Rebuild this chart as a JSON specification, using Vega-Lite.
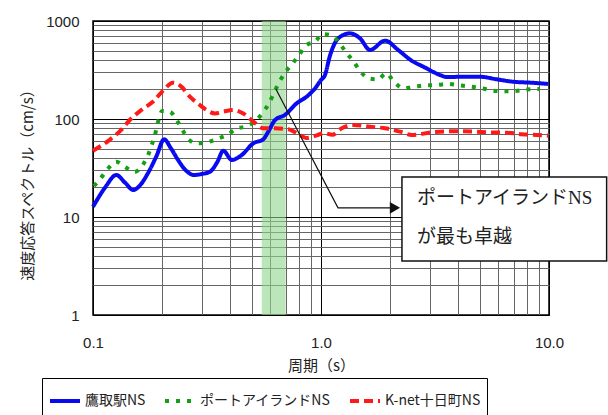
{
  "$schema": "https://vega.github.io/schema/vega-lite/v6.json",
  "width": 456,
  "height": 294,
  "autosize": {"type": "none"},
  "padding": {"left": 93, "top": 21, "right": 59, "bottom": 100},
  "background": "white",
  "config": {
    "view": {"stroke": "black", "strokeWidth": 1.5},
    "font": "Liberation Sans, Noto Sans CJK JP",
    "axis": {
      "domain": false,
      "ticks": false,
      "labelFlush": false,
      "labelFontSize": 15,
      "labelColor": "#222",
      "titleFontSize": 15,
      "titleFontWeight": "normal",
      "titleColor": "#222",
      "titleFont": "Noto Sans CJK JP",
      "labelOverlap": false,
      "gridWidth": 1
    }
  },
  "datasets": {
    "spectra": [
      {"series": "鷹取駅NS", "period": 0.1, "value": 12.7},
      {"series": "鷹取駅NS", "period": 0.113, "value": 20},
      {"series": "鷹取駅NS", "period": 0.1265, "value": 26.8},
      {"series": "鷹取駅NS", "period": 0.138, "value": 22.5},
      {"series": "鷹取駅NS", "period": 0.15, "value": 18.9},
      {"series": "鷹取駅NS", "period": 0.162, "value": 21.5},
      {"series": "鷹取駅NS", "period": 0.174, "value": 27.9},
      {"series": "鷹取駅NS", "period": 0.19, "value": 42},
      {"series": "鷹取駅NS", "period": 0.205, "value": 62},
      {"series": "鷹取駅NS", "period": 0.22, "value": 50},
      {"series": "鷹取駅NS", "period": 0.236, "value": 38.2},
      {"series": "鷹取駅NS", "period": 0.255, "value": 30},
      {"series": "鷹取駅NS", "period": 0.277, "value": 26.8},
      {"series": "鷹取駅NS", "period": 0.3, "value": 27.5},
      {"series": "鷹取駅NS", "period": 0.326, "value": 29},
      {"series": "鷹取駅NS", "period": 0.35, "value": 36},
      {"series": "鷹取駅NS", "period": 0.373, "value": 47.5},
      {"series": "鷹取駅NS", "period": 0.406, "value": 38.2},
      {"series": "鷹取駅NS", "period": 0.449, "value": 42.9},
      {"series": "鷹取駅NS", "period": 0.505, "value": 56.5},
      {"series": "鷹取駅NS", "period": 0.558, "value": 62},
      {"series": "鷹取駅NS", "period": 0.587, "value": 74.3},
      {"series": "鷹取駅NS", "period": 0.629, "value": 97.7},
      {"series": "鷹取駅NS", "period": 0.695, "value": 110},
      {"series": "鷹取駅NS", "period": 0.782, "value": 144.5},
      {"series": "鷹取駅NS", "period": 0.865, "value": 169},
      {"series": "鷹取駅NS", "period": 0.941, "value": 205},
      {"series": "鷹取駅NS", "period": 1.0, "value": 250},
      {"series": "鷹取駅NS", "period": 1.04, "value": 280},
      {"series": "鷹取駅NS", "period": 1.094, "value": 440},
      {"series": "鷹取駅NS", "period": 1.19, "value": 665},
      {"series": "鷹取駅NS", "period": 1.34, "value": 748},
      {"series": "鷹取駅NS", "period": 1.483, "value": 665},
      {"series": "鷹取駅NS", "period": 1.64, "value": 506},
      {"series": "鷹取駅NS", "period": 1.91, "value": 630},
      {"series": "鷹取駅NS", "period": 2.18, "value": 506},
      {"series": "鷹取駅NS", "period": 2.5, "value": 393},
      {"series": "鷹取駅NS", "period": 2.81, "value": 342},
      {"series": "鷹取駅NS", "period": 3.33, "value": 281},
      {"series": "鷹取駅NS", "period": 3.56, "value": 268},
      {"series": "鷹取駅NS", "period": 4.21, "value": 270},
      {"series": "鷹取駅NS", "period": 4.98, "value": 270},
      {"series": "鷹取駅NS", "period": 5.9, "value": 254},
      {"series": "鷹取駅NS", "period": 6.98, "value": 240},
      {"series": "鷹取駅NS", "period": 8.26, "value": 235},
      {"series": "鷹取駅NS", "period": 9.93, "value": 228},

      {"series": "ポートアイランドNS", "period": 0.101, "value": 20.7},
      {"series": "ポートアイランドNS", "period": 0.108, "value": 24.8},
      {"series": "ポートアイランドNS", "period": 0.116, "value": 30.9},
      {"series": "ポートアイランドNS", "period": 0.1266, "value": 36.6},
      {"series": "ポートアイランドNS", "period": 0.139, "value": 32.1},
      {"series": "ポートアイランドNS", "period": 0.152, "value": 28.8},
      {"series": "ポートアイランドNS", "period": 0.166, "value": 34.5},
      {"series": "ポートアイランドNS", "period": 0.175, "value": 43.6},
      {"series": "ポートアイランドNS", "period": 0.182, "value": 56.5},
      {"series": "ポートアイランドNS", "period": 0.188, "value": 72.5},
      {"series": "ポートアイランドNS", "period": 0.193, "value": 94},
      {"series": "ポートアイランドNS", "period": 0.201, "value": 120.8},
      {"series": "ポートアイランドNS", "period": 0.218, "value": 118},
      {"series": "ポートアイランドNS", "period": 0.234, "value": 95.5},
      {"series": "ポートアイランドNS", "period": 0.248, "value": 76},
      {"series": "ポートアイランドNS", "period": 0.264, "value": 61},
      {"series": "ポートアイランドNS", "period": 0.287, "value": 56.5},
      {"series": "ポートアイランドNS", "period": 0.312, "value": 57.4},
      {"series": "ポートアイランドNS", "period": 0.349, "value": 62.5},
      {"series": "ポートアイランドNS", "period": 0.386, "value": 68.7},
      {"series": "ポートアイランドNS", "period": 0.427, "value": 79.6},
      {"series": "ポートアイランドNS", "period": 0.475, "value": 84.9},
      {"series": "ポートアイランドNS", "period": 0.522, "value": 97.7},
      {"series": "ポートアイランドNS", "period": 0.555, "value": 116},
      {"series": "ポートアイランドNS", "period": 0.593, "value": 146.6},
      {"series": "ポートアイランドNS", "period": 0.622, "value": 185},
      {"series": "ポートアイランドNS", "period": 0.654, "value": 235},
      {"series": "ポートアイランドNS", "period": 0.695, "value": 297},
      {"series": "ポートアイランドNS", "period": 0.748, "value": 364},
      {"series": "ポートアイランドNS", "period": 0.801, "value": 450},
      {"series": "ポートアイランドNS", "period": 0.865, "value": 569},
      {"series": "ポートアイランドNS", "period": 0.941, "value": 615},
      {"series": "ポートアイランドNS", "period": 1.017, "value": 736},
      {"series": "ポートアイランドNS", "period": 1.125, "value": 703},
      {"series": "ポートアイランドNS", "period": 1.22, "value": 569},
      {"series": "ポートアイランドNS", "period": 1.3, "value": 468},
      {"series": "ポートアイランドNS", "period": 1.4, "value": 376},
      {"series": "ポートアイランドNS", "period": 1.49, "value": 304},
      {"series": "ポートアイランドNS", "period": 1.64, "value": 258},
      {"series": "ポートアイランドNS", "period": 1.78, "value": 254},
      {"series": "ポートアイランドNS", "period": 1.93, "value": 293},
      {"series": "ポートアイランドNS", "period": 2.09, "value": 240},
      {"series": "ポートアイランドNS", "period": 2.3, "value": 206},
      {"series": "ポートアイランドNS", "period": 2.57, "value": 214},
      {"series": "ポートアイランドNS", "period": 2.88, "value": 221},
      {"series": "ポートアイランドNS", "period": 3.21, "value": 222},
      {"series": "ポートアイランドNS", "period": 3.62, "value": 228},
      {"series": "ポートアイランドNS", "period": 4.04, "value": 221},
      {"series": "ポートアイランドNS", "period": 4.54, "value": 214},
      {"series": "ポートアイランドNS", "period": 5.07, "value": 206},
      {"series": "ポートアイランドNS", "period": 5.66, "value": 195},
      {"series": "ポートアイランドNS", "period": 6.37, "value": 192},
      {"series": "ポートアイランドNS", "period": 7.14, "value": 193},
      {"series": "ポートアイランドNS", "period": 7.98, "value": 200},
      {"series": "ポートアイランドNS", "period": 9.1, "value": 202},

      {"series": "K-net十日町NS", "period": 0.1, "value": 47.5},
      {"series": "K-net十日町NS", "period": 0.118, "value": 61},
      {"series": "K-net十日町NS", "period": 0.133, "value": 77.3},
      {"series": "K-net十日町NS", "period": 0.145, "value": 97.7},
      {"series": "K-net十日町NS", "period": 0.163, "value": 123.6},
      {"series": "K-net十日町NS", "period": 0.183, "value": 150},
      {"series": "K-net十日町NS", "period": 0.203, "value": 195},
      {"series": "K-net十日町NS", "period": 0.224, "value": 235},
      {"series": "K-net十日町NS", "period": 0.244, "value": 214},
      {"series": "K-net十日町NS", "period": 0.266, "value": 169},
      {"series": "K-net十日町NS", "period": 0.294, "value": 139},
      {"series": "K-net十日町NS", "period": 0.314, "value": 124},
      {"series": "K-net十日町NS", "period": 0.343, "value": 114},
      {"series": "K-net十日町NS", "period": 0.373, "value": 118.8},
      {"series": "K-net十日町NS", "period": 0.412, "value": 123.6},
      {"series": "K-net十日町NS", "period": 0.456, "value": 114},
      {"series": "K-net十日町NS", "period": 0.505, "value": 94},
      {"series": "K-net十日町NS", "period": 0.558, "value": 80.4},
      {"series": "K-net十日町NS", "period": 0.629, "value": 80.4},
      {"series": "K-net十日町NS", "period": 0.719, "value": 78.5},
      {"series": "K-net十日町NS", "period": 0.809, "value": 68.7},
      {"series": "K-net十日町NS", "period": 0.865, "value": 64},
      {"series": "K-net十日町NS", "period": 0.957, "value": 68},
      {"series": "K-net十日町NS", "period": 1.03, "value": 72},
      {"series": "K-net十日町NS", "period": 1.12, "value": 69},
      {"series": "K-net十日町NS", "period": 1.233, "value": 80.4},
      {"series": "K-net十日町NS", "period": 1.387, "value": 86.9},
      {"series": "K-net十日町NS", "period": 1.64, "value": 83.5},
      {"series": "K-net十日町NS", "period": 1.91, "value": 80.4},
      {"series": "K-net十日町NS", "period": 2.22, "value": 74.3},
      {"series": "K-net十日町NS", "period": 2.5, "value": 68.7},
      {"series": "K-net十日町NS", "period": 3.06, "value": 73},
      {"series": "K-net十日町NS", "period": 3.94, "value": 75},
      {"series": "K-net十日町NS", "period": 4.66, "value": 74.3},
      {"series": "K-net十日町NS", "period": 5.51, "value": 73},
      {"series": "K-net十日町NS", "period": 6.52, "value": 72.5},
      {"series": "K-net十日町NS", "period": 7.58, "value": 70},
      {"series": "K-net十日町NS", "period": 8.83, "value": 68.7},
      {"series": "K-net十日町NS", "period": 9.93, "value": 67.6}
    ],
    "band": [{"from": 0.55, "to": 0.7}],
    "leader": [
      {"step": 1, "period": 0.634, "value": 202},
      {"step": 2, "period": 1.187, "value": 12.4},
      {"step": 3, "period": 2.11, "value": 12.4}
    ],
    "arrow": [{"period": 2.11, "value": 12.4}],
    "box": [{"x1": 2.265, "x2": 17.9, "y1": 3.56, "y2": 25.6}],
    "note": [
      {"period": 2.637, "value": 15.6, "text": "ポートアイランドNS"},
      {"period": 2.637, "value": 6.25, "text": "が最も卓越"}
    ]
  },
  "layer": [
    {
      "data": {"name": "band"},
      "mark": {"type": "rect", "fill": "#8fd48a", "opacity": 0.6},
      "encoding": {
        "x": {"field": "from", "type": "quantitative", "scale": {"type": "log", "domain": [0.1, 10], "nice": false}},
        "x2": {"field": "to"},
        "y": {"datum": 1, "type": "quantitative", "scale": {"type": "log", "domain": [1, 1000], "nice": false}},
        "y2": {"datum": 1000}
      }
    },
    {
      "data": {"name": "spectra"},
      "mark": {"type": "line", "strokeWidth": 4, "interpolate": "monotone", "strokeCap": "butt"},
      "encoding": {
        "x": {
          "field": "period", "type": "quantitative",
          "scale": {"type": "log", "domain": [0.1, 10], "nice": false},
          "axis": {
            "title": "周期（s）",
            "values": [0.1, 0.2, 0.3, 0.4, 0.5, 0.6, 0.7, 0.8, 0.9, 1, 2, 3, 4, 5, 6, 7, 8, 9, 10],
            "labelExpr": "indexof([0.1, 1, 10], datum.value) >= 0 ? format(datum.value, '.1f') : ''",
            "grid": true,
            "gridColor": {"condition": {"test": "indexof([0.1, 1, 10], datum.value) >= 0", "value": "#000000"}, "value": "#666666"},
            "labelPadding": 20,
            "titlePadding": 8
          }
        },
        "y": {
          "field": "value", "type": "quantitative",
          "scale": {"type": "log", "domain": [1, 1000], "nice": false},
          "axis": {
            "title": "速度応答スペクトル（cm/s）",
            "titleY": 160,
            "values": [1, 2, 3, 4, 5, 6, 7, 8, 9, 10, 20, 30, 40, 50, 60, 70, 80, 90, 100, 200, 300, 400, 500, 600, 700, 800, 900, 1000],
            "labelExpr": "indexof([1, 10, 100, 1000], datum.value) >= 0 ? format(datum.value, 'd') : ''",
            "grid": true,
            "gridColor": {"condition": {"test": "indexof([1, 10, 100, 1000], datum.value) >= 0", "value": "#000000"}, "value": "#666666"},
            "labelPadding": 14,
            "titlePadding": 10
          }
        },
        "color": {
          "field": "series", "type": "nominal",
          "scale": {"domain": ["鷹取駅NS", "ポートアイランドNS", "K-net十日町NS"], "range": ["#0a0af0", "#13a013", "#ff1a1a"]},
          "legend": {
            "orient": "none", "legendX": -51, "legendY": 357, "direction": "horizontal",
            "title": null, "strokeColor": "#000000", "fillColor": "#ffffff", "padding": 6,
            "symbolType": "stroke", "symbolSize": 900, "symbolStrokeWidth": 4,
            "labelFontSize": 14, "labelFont": "Noto Sans CJK JP", "labelColor": "#222",
            "columnPadding": 11, "labelOffset": 3
          }
        },
        "strokeDash": {
          "field": "series", "type": "nominal",
          "scale": {"domain": ["鷹取駅NS", "ポートアイランドNS", "K-net十日町NS"], "range": [[1, 0], [4, 7], [9, 5]]},
          "legend": {
            "orient": "none", "legendX": -51, "legendY": 357, "direction": "horizontal",
            "title": null, "strokeColor": "#000000", "fillColor": "#ffffff", "padding": 6,
            "symbolType": "stroke", "symbolSize": 900, "symbolStrokeWidth": 4,
            "labelFontSize": 14, "labelFont": "Noto Sans CJK JP", "labelColor": "#222",
            "columnPadding": 11, "labelOffset": 3
          }
        }
      }
    },
    {
      "data": {"name": "leader"},
      "mark": {"type": "line", "color": "#111", "strokeWidth": 1.2},
      "encoding": {
        "x": {"field": "period", "type": "quantitative", "scale": {"type": "log", "domain": [0.1, 10], "nice": false}},
        "y": {"field": "value", "type": "quantitative", "scale": {"type": "log", "domain": [1, 1000], "nice": false}},
        "order": {"field": "step"}
      }
    },
    {
      "data": {"name": "arrow"},
      "mark": {"type": "point", "shape": "triangle-right", "filled": true, "color": "#111", "size": 140, "opacity": 1},
      "encoding": {
        "x": {"field": "period", "type": "quantitative", "scale": {"type": "log", "domain": [0.1, 10], "nice": false}},
        "y": {"field": "value", "type": "quantitative", "scale": {"type": "log", "domain": [1, 1000], "nice": false}}
      }
    },
    {
      "data": {"name": "box"},
      "mark": {"type": "rect", "fill": "#ffffff", "stroke": "#111", "strokeWidth": 1.5},
      "encoding": {
        "x": {"field": "x1", "type": "quantitative", "scale": {"type": "log", "domain": [0.1, 10], "nice": false}},
        "x2": {"field": "x2"},
        "y": {"field": "y1", "type": "quantitative", "scale": {"type": "log", "domain": [1, 1000], "nice": false}},
        "y2": {"field": "y2"}
      }
    },
    {
      "data": {"name": "note"},
      "mark": {"type": "text", "align": "left", "baseline": "middle", "fontSize": 19, "font": "'Liberation Serif', 'Noto Sans CJK JP'", "color": "#222"},
      "encoding": {
        "x": {"field": "period", "type": "quantitative", "scale": {"type": "log", "domain": [0.1, 10], "nice": false}},
        "y": {"field": "value", "type": "quantitative", "scale": {"type": "log", "domain": [1, 1000], "nice": false}},
        "text": {"field": "text"}
      }
    }
  ]
}
